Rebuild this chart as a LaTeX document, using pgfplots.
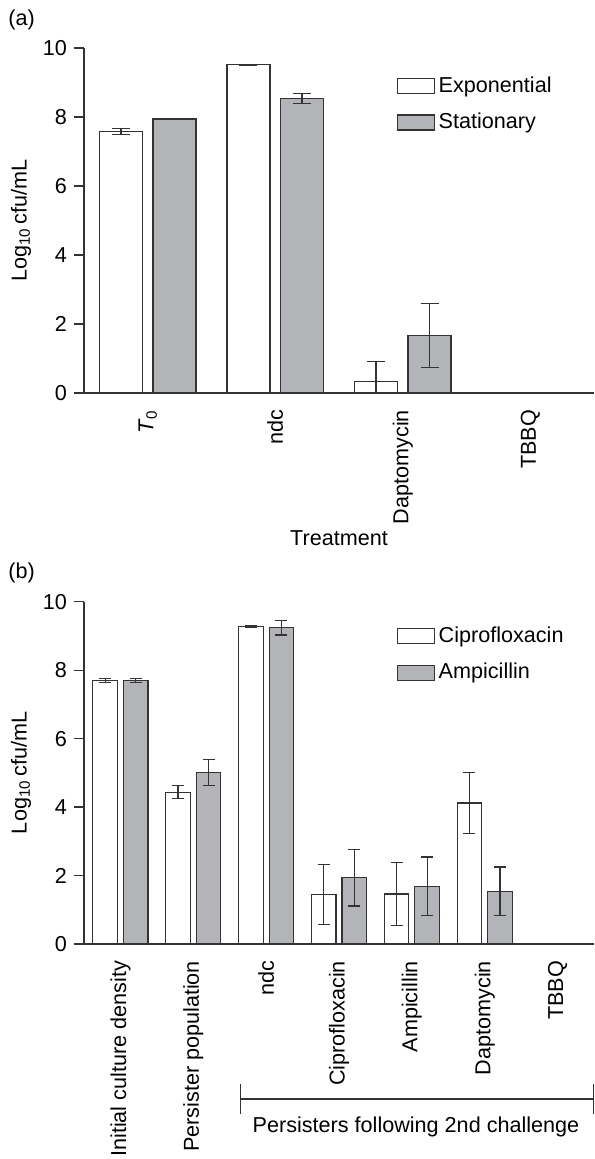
\documentclass[border=0pt]{standalone}
\usepackage{fontspec}
\setmainfont{Liberation Sans}
\usepackage{pgfplots}
\pgfplotsset{compat=1.18}
\definecolor{bargray}{HTML}{B3B4B8}
\definecolor{ink}{HTML}{333333}

\pgfplotsset{
  cfu/.style={
    scale only axis, width=255pt,
    axis lines=left, axis line style={-, ink, line width=0.6pt},
    ymin=0, ymax=10, ytick={0,2,...,10},
    tick align=outside, major tick length=5pt,
    y tick style={ink, line width=0.6pt},
    x tick style={draw=none},
    xticklabel style={rotate=90, anchor=east},
    /pgf/number format/assume math mode=true,
    ylabel={Log\textsubscript{10}\,cfu/mL},
    ylabel style={at={(axis description cs:-0.1235,0.5)}, anchor=center},
    ybar, bar width=0.337,
    legend cell align=left,
    legend image code/.code={\draw[##1] (0pt,-3.75pt) rectangle (18.5pt,3.75pt);},
    legend style={draw=none, fill=none, anchor=north west, inner sep=0pt, row sep=5pt},
    clip=false,
  },
  ex/.style={fill=white, draw=ink, line width=0.6pt, bar shift=-0.21,
    error bars/.cd, y dir=both, y explicit,
    error bar style={ink, line width=0.6pt},
    error mark options={rotate=90, ink, line width=0.6pt, mark size=#1}},
  st/.style={fill=bargray, draw=ink, line width=0.6pt, bar shift=0.21,
    error bars/.cd, y dir=both, y explicit,
    error bar style={ink, line width=0.6pt},
    error mark options={rotate=90, ink, line width=0.6pt, mark size=#1}},
}

\begin{document}
\begin{tikzpicture}[font=\fontsize{10.8}{13}\selectfont]
\path[use as bounding box] (0,0) rectangle (297pt,-579.5pt);

\node[anchor=west, inner sep=0pt] at (4pt,-10pt) {(a)};
\begin{axis}[cfu, at={(42pt,-196.5pt)}, anchor=south west, height=172.5pt,
  xmin=-0.5, xmax=3.5, xtick={0,1,2,3},
  xticklabels={\textit{T}\textsubscript{0}, ndc, Daptomycin, TBBQ},
  xlabel={Treatment},
  xlabel style={at={(axis description cs:0.5,-0.42)}, anchor=center},
  legend style={at={(axis description cs:0.612,0.93)}},
]
\addplot[ex=4.5pt] coordinates {
  (0,7.58) +- (0,0.08)
  (1,9.51) +- (0,0.01)
  (2,0.33) += (0,0.58) -= (0,0.33)
};
\addplot[st=4.5pt] coordinates {
  (0,7.94) +- (0,0.02)
  (1,8.53) +- (0,0.14)
  (2,1.67) +- (0,0.92)
};
\legend{Exponential, Stationary}
\end{axis}

\node[anchor=west, inner sep=0pt] at (4pt,-286.5pt) {(b)};
\begin{axis}[cfu, at={(42pt,-472pt)}, anchor=south west, height=171.15pt,
  xmin=-0.5, xmax=6.5, xtick={0,...,6},
  xticklabels={Initial culture density, Persister population, ndc,
    Ciprofloxacin, Ampicillin, Daptomycin, TBBQ},
  legend style={at={(axis description cs:0.612,0.94)}},
]
\addplot[ex=3pt] coordinates {
  (0,7.70) +- (0,0.05)
  (1,4.43) +- (0,0.19)
  (2,9.27) +- (0,0.02)
  (3,1.44) +- (0,0.88)
  (4,1.46) +- (0,0.92)
  (5,4.12) +- (0,0.90)
};
\addplot[st=3pt] coordinates {
  (0,7.70) +- (0,0.05)
  (1,5.00) +- (0,0.38)
  (2,9.24) +- (0,0.21)
  (3,1.94) +- (0,0.83)
  (4,1.69) +- (0,0.85)
  (5,1.54) +- (0,0.71)
};
\legend{Ciprofloxacin, Ampicillin}
\draw[ink, line width=0.6pt]
  ([yshift=-70pt]axis cs:1.648,0) -- ([yshift=-85pt]axis cs:1.648,0)
  ([yshift=-77.5pt]axis cs:1.648,0) -- ([yshift=-77.5pt]axis cs:6.49,0)
  ([yshift=-70pt]axis cs:6.49,0) -- ([yshift=-85pt]axis cs:6.49,0);
\node at ([yshift=-91.5pt]axis cs:4.057,0) {Persisters following 2nd challenge};
\end{axis}
\end{tikzpicture}
\end{document}
